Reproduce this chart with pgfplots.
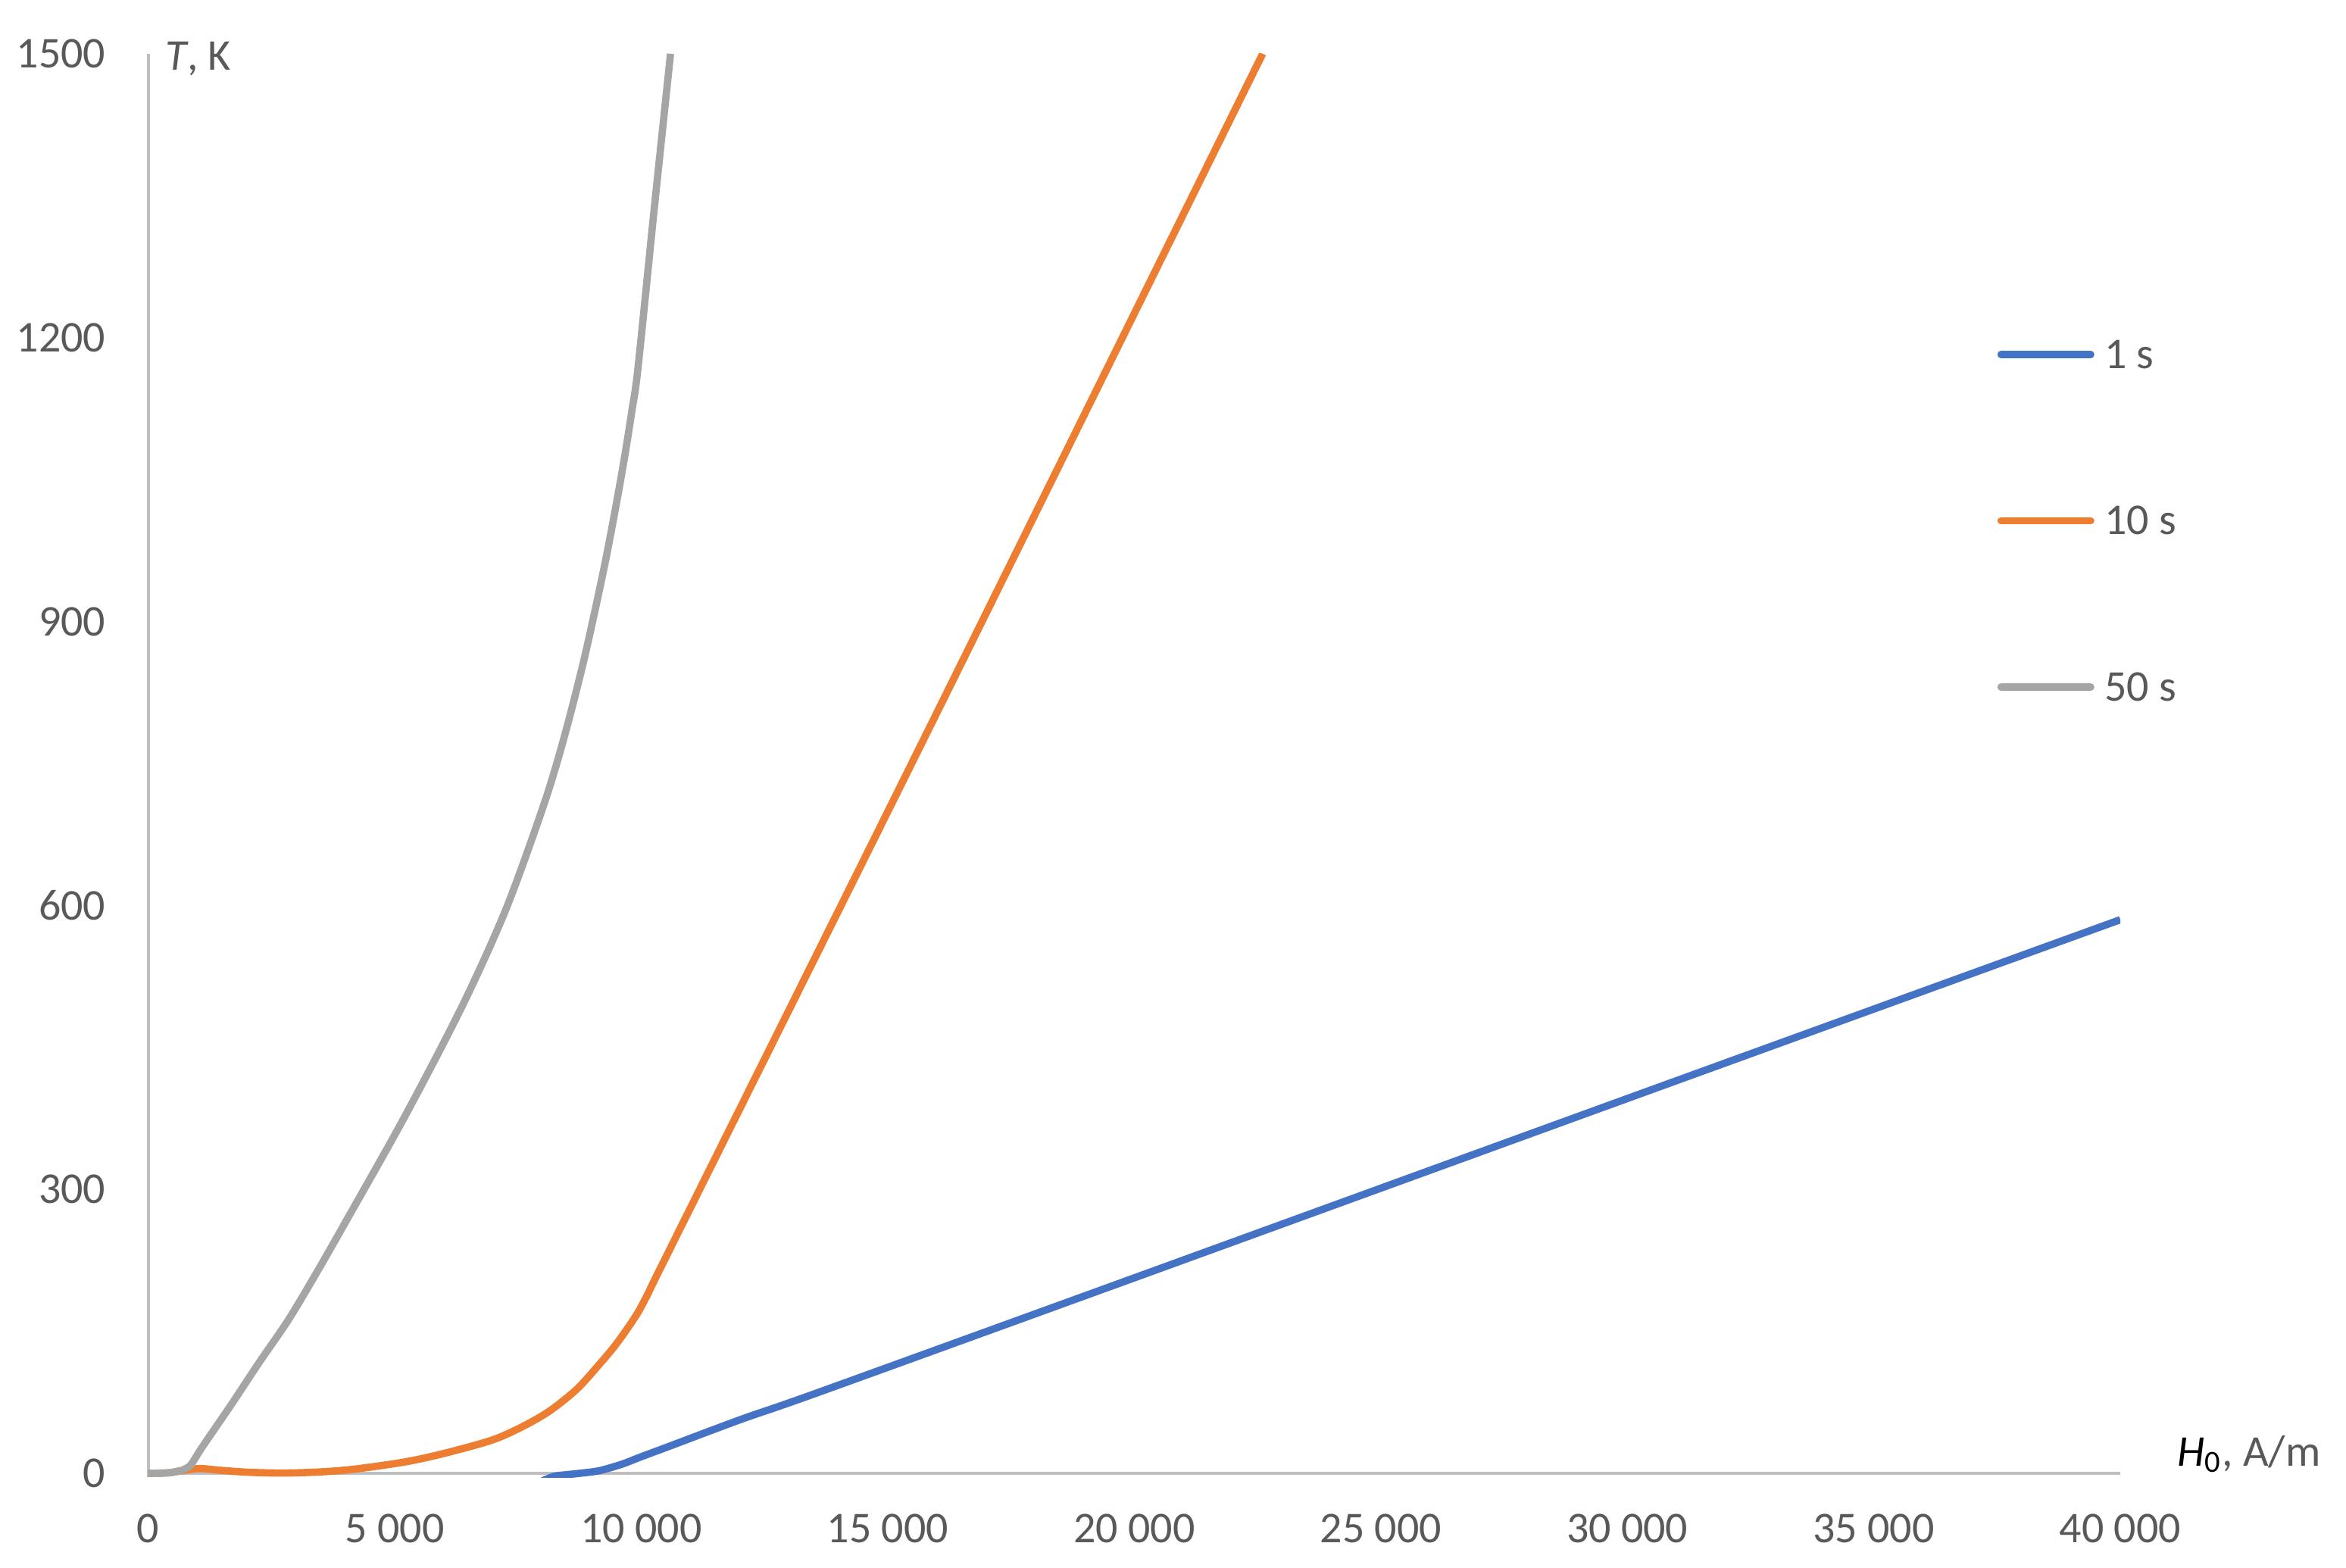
\documentclass[border=0pt]{standalone}
\usepackage{fontspec}
\setmainfont{Carlito}
\usepackage{pgfplots}
\pgfplotsset{compat=1.18}
\definecolor{sOne}{HTML}{4472C4}
\definecolor{sTwo}{HTML}{ED7D31}
\definecolor{sThree}{HTML}{A5A5A5}
\definecolor{axgray}{HTML}{BFBFBF}
\definecolor{txtgray}{HTML}{595959}
\newcommand\chartfont{\fontsize{14.5bp}{17bp}\selectfont}
\begin{document}
\begin{tikzpicture}
\begin{axis}[
  scale only axis, width=650.85bp, height=469.75bp,
  xmin=0, xmax=40000, ymin=-4, ymax=1500,
  axis x line=bottom, axis y line=left, separate axis lines,
  x axis line style={draw=none},
  y axis line style={-, draw=axgray, line width=1bp},
  major tick length=0pt, tick style={draw=none},
  xtick={0,5000,10000,15000,20000,25000,30000,35000,40000},
  xticklabels={0,5 000,10 000,15 000,20 000,25 000,30 000,35 000,40 000},
  ytick={0,300,600,900,1200,1500},
  yticklabels={0,300,600,900,1200,1500},
  extra y ticks={0}, extra y tick labels={},
  extra y tick style={grid=major, major grid style={draw=axgray, line width=1bp}},
  xticklabel style={font=\chartfont, text=txtgray, inner sep=0pt, anchor=north, yshift=-12bp},
  yticklabel style={font=\chartfont, text=txtgray, inner sep=0pt, anchor=east, xshift=-13.9bp},
  every axis x label/.style={at={(axis description cs:1.02881,0.007983)}, anchor=base west, inner sep=0pt, font=\chartfont, text=txtgray},
  every axis y label/.style={at={(axis description cs:0.0086,0.98829)}, anchor=base west, inner sep=0pt, font=\chartfont, text=txtgray},
  xlabel={{\color{black}\textit{H}\textsubscript{0}}, A/m},
  ylabel={\textit{T}, K},
  legend style={at={(axis description cs:0.93585,0.79851)}, anchor=north west, draw=none, fill=none, inner sep=0pt, outer sep=0pt,
    font=\chartfont, text=txtgray, row sep=45.675bp,
    nodes={inner sep=0pt, text height=9.2bp, text depth=0pt}, cells={anchor=west}},
  legend image code/.code={\draw[#1, line cap=round] (1.2bp,0bp) -- (30.8bp,0bp); \path (0bp,0bp) (34.2bp,0bp);},
  every axis plot/.append style={line width=2.4bp, line join=round},
]
\addplot[sOne, no marks, smooth] coordinates {
(8000,-8) (8250,-3) (8700,-0.3) (9133,2.6) (9600,9.5) (10000,17.5) (10515,27.5) (12052,57.5) (13588,85.4) (20000,206.5) (30000,396) (40000,585)
};
\addlegendentry{1 s}
\addplot[sTwo, no marks, smooth] coordinates {
(0,0) (400,0.5) (700,3) (1050,5) (1400,3.5) (2000,1.2) (2740,0.3) (3500,1.5) (4200,4.5) (5205,12) (6000,21) (6969,35) (7580,49) (8146,66) (8696,89) (9132,114) (9500,137) (9888,166) (10100,186) (10335,211) (11377,320) (16000,804) (22605,1500)
};
\addlegendentry{10 s}
\addplot[sThree, no marks, smooth] coordinates {
(0,0) (300,0.3) (500,1) (700,3.5) (850,8) (943,15) (1100,28) (1678,72) (2250,117) (2855,163) (3450,215) (4030,268) (5205,377) (6382,495) (7264,597) (8028,707) (8439,778) (8850,862) (9240,955) (9480,1020) (9670,1076) (9815,1124) (9935,1168) (10260,1334) (10595,1500)
};
\addlegendentry{50 s}
\end{axis}
\pgfresetboundingbox
\path[use as bounding box] (-48.9bp,-30bp) rectangle (725.35bp,487.5bp);
\end{tikzpicture}
\end{document}
